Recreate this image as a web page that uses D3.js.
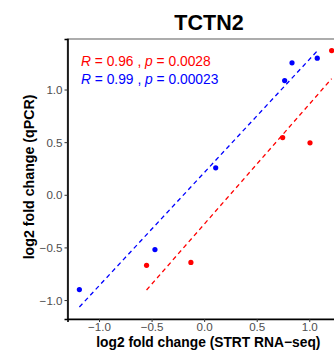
<!DOCTYPE html>
<html>
<head>
<meta charset="utf-8">
<script src="https://cdn.jsdelivr.net/npm/d3@7"></script>
<style>
  body { margin: 0; background: #fff; }
  text { font-family: "Liberation Sans", Arial, Helvetica, sans-serif; }
</style>
</head>
<body>
<div id="chart"></div>
<script>
// values
var blueX = [-1.187, -0.468, 0.11, 0.766, 0.836, 1.076];
var blueY = [-0.90, -0.52, 0.256, 1.085, 1.254, 1.298];
var redX = [-0.548, -0.126, 0.747, 1.007, 1.213];
var redY = [-0.67, -0.643, 0.544, 0.494, 1.37];
// dashed fit lines: [intercept, slope]
var blueFit = [0.21, 1.075];
var redFit = [-0.28, 1.14];
var xTicks = [-1.0, -0.5, 0.0, 0.5, 1.0];
var yTicks = [-1.0, -0.5, 0.0, 0.5, 1.0];
var statLines = [
  { color: "#FF0000", r: "0.96", p: "0.0028" },
  { color: "#0000FF", r: "0.99", p: "0.00023" }
];

var width = 334, height = 353;
var margin = { top: 39, left: 67.5, bottom: 34, right: -11 };
var innerW = width - margin.left - margin.right;
var innerH = height - margin.top - margin.bottom;

var svg = d3.select("#chart").append("svg")
  .attr("width", width)
  .attr("height", height);

var xScale = d3.scaleLinear().domain([-1.3, 1.34]).range([0, innerW]);
var yScale = d3.scaleLinear().domain([-1.18, 1.48]).range([innerH, 0]);

var g = svg.append("g")
  .attr("transform", "translate(" + margin.left + "," + margin.top + ")");

// panel border (gray), axis lines drawn later in black
g.append("rect")
  .attr("x", 0).attr("y", 0)
  .attr("width", innerW).attr("height", innerH)
  .attr("fill", "none")
  .attr("stroke", "#8a8a8a")
  .attr("stroke-width", 1.4);

function fmt(d) { return d3.format(".1f")(d).replace("-", "\u2212"); }

var xAxis = g.append("g")
  .attr("transform", "translate(0," + innerH + ")")
  .call(d3.axisBottom(xScale).tickValues(xTicks).tickFormat(fmt).tickSize(3).tickPadding(1));
var yAxis = g.append("g")
  .call(d3.axisLeft(yScale).tickValues(yTicks).tickFormat(fmt).tickSize(3).tickPadding(2));

[xAxis, yAxis].forEach(function (a) {
  a.select(".domain").attr("stroke", "#000").attr("stroke-width", 1.6);
  a.selectAll(".tick line").attr("stroke", "#333").attr("stroke-width", 1);
  a.selectAll(".tick text")
    .attr("fill", "#4D4D4D")
    .style("font-size", "11.6px")
    .style("font-family", "'Liberation Sans', Arial, sans-serif");
});
yAxis.selectAll(".tick text").attr("dy", "0.36em");

function drawSeries(xs, ys, fit, color) {
  var ext = d3.extent(xs);
  var line = d3.line()
    .x(function (d) { return xScale(d); })
    .y(function (d) { return yScale(fit[0] + fit[1] * d); });
  g.append("path")
    .datum(ext)
    .attr("d", line)
    .attr("fill", "none")
    .attr("stroke", color)
    .attr("stroke-width", 1.3)
    .attr("stroke-dasharray", "4.5,3.5");
  g.selectAll(null)
    .data(xs.map(function (x, i) { return [x, ys[i]]; }))
    .enter().append("circle")
    .attr("cx", function (d) { return xScale(d[0]); })
    .attr("cy", function (d) { return yScale(d[1]); })
    .attr("r", 2.6)
    .attr("fill", color);
}

drawSeries(redX, redY, redFit, "#FF0000");
drawSeries(blueX, blueY, blueFit, "#0000FF");

// stat labels
var stats = svg.append("g");
statLines.forEach(function (s, i) {
  var t = stats.append("text")
    .attr("x", 81)
    .attr("y", 66 + i * 18.3)
    .attr("fill", s.color)
    .style("font-size", "13.8px");
  t.append("tspan").style("font-style", "italic").text("R");
  t.append("tspan").text(" = " + s.r + " , ");
  t.append("tspan").style("font-style", "italic").text("p");
  t.append("tspan").text(" = " + s.p);
});

// title
svg.append("text")
  .attr("x", 209).attr("y", 30)
  .attr("text-anchor", "middle")
  .style("font-size", "21.5px")
  .style("font-weight", "bold")
  .text("TCTN2");

// axis titles
svg.append("text")
  .attr("x", 208.3).attr("y", 346.5)
  .attr("text-anchor", "middle")
  .style("font-size", "13.8px")
  .style("font-weight", "bold")
  .text("log2 fold change (STRT RNA\u2212seq)");

svg.append("text")
  .attr("transform", "translate(33.5,177) rotate(-90)")
  .attr("text-anchor", "middle")
  .style("font-size", "14.2px")
  .style("font-weight", "bold")
  .text("log2 fold change (qPCR)");
</script>
</body>
</html>
